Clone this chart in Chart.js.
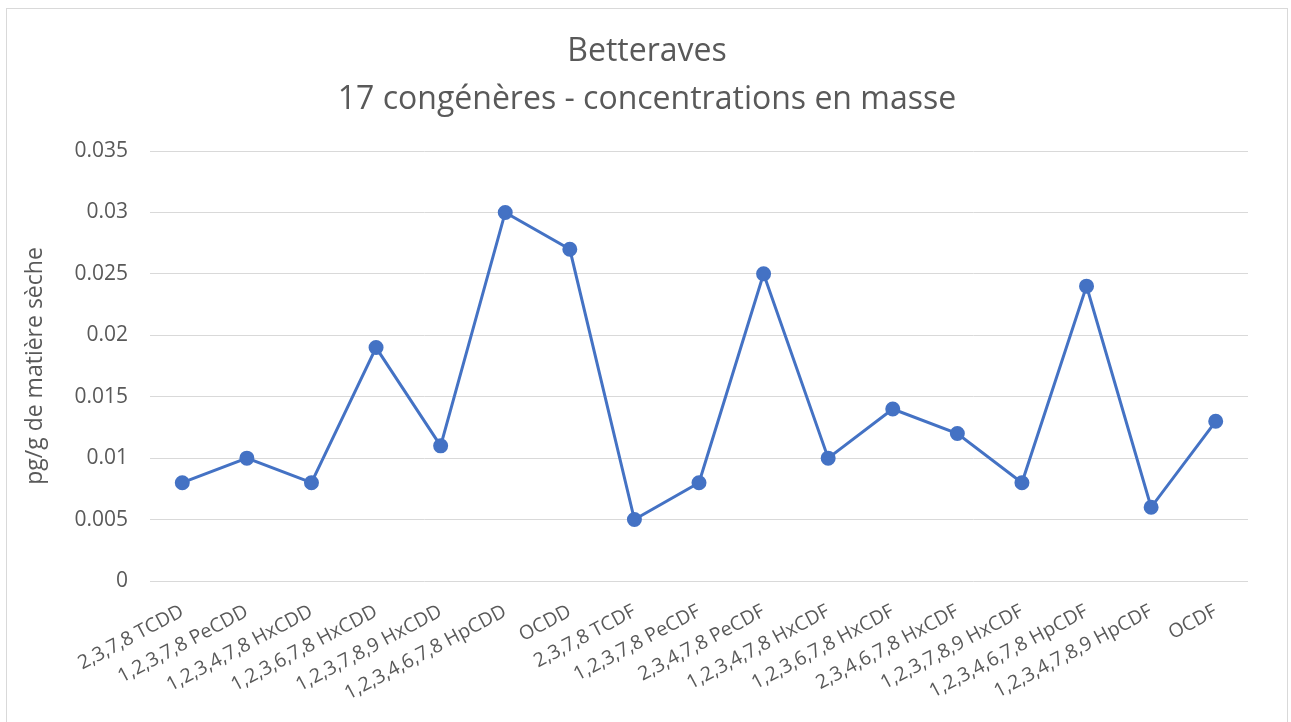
<!DOCTYPE html>
<html>
<head>
<meta charset="utf-8">
<script src="https://cdn.jsdelivr.net/npm/chart.js@4"></script>
<style>
  body { margin: 0; background: #fff; }
  #wrap { width: 1291px; height: 722px; position: relative; }
</style>
</head>
<body>
<div id="wrap"><canvas id="graph"></canvas></div>
<script>
const congeners = [
    '2,3,7,8 TCDD', '1,2,3,7,8 PeCDD', '1,2,3,4,7,8 HxCDD', '1,2,3,6,7,8 HxCDD',
    '1,2,3,7,8,9 HxCDD', '1,2,3,4,6,7,8 HpCDD', 'OCDD', '2,3,7,8 TCDF',
    '1,2,3,7,8 PeCDF', '2,3,4,7,8 PeCDF', '1,2,3,4,7,8 HxCDF', '1,2,3,6,7,8 HxCDF',
    '2,3,4,6,7,8 HxCDF', '1,2,3,7,8,9 HxCDF', '1,2,3,4,6,7,8 HpCDF', '1,2,3,4,7,8,9 HpCDF', 'OCDF'
];
const concentrations = [
    0.008, 0.010, 0.008, 0.019, 0.011, 0.030, 0.027, 0.005,
    0.008, 0.025, 0.010, 0.014, 0.012, 0.008, 0.024, 0.006, 0.013
];
const titleLines = ['Betteraves', '17 congénères - concentrations en masse'];
const yMin = 0;
const yMax = 0.035;
const yStep = 0.005;

const textColor = '#595959';
const fontName = "'Open Sans', sans-serif";

// white background + light frame round the chart area, like the spreadsheet
const frame = {
    id: 'frame',
    beforeDraw(chart) {
        const c = chart.ctx;
        c.save();
        c.fillStyle = '#fff';
        c.fillRect(0, 0, chart.width, chart.height);
        c.strokeStyle = '#d9d9d9';
        c.lineWidth = 1;
        c.strokeRect(6.5, 8.5, 1281, 730);
        c.restore();
    }
};

// title centred on the whole frame, not only on the plot
const topTitle = {
    id: 'topTitle',
    afterDraw(chart) {
        const c = chart.ctx;
        c.save();
        c.fillStyle = textColor;
        c.font = `32px ${fontName}`;
        c.textAlign = 'center';
        c.textBaseline = 'middle';
        titleLines.forEach((line, i) => {
            c.fillText(line, 647, 52 + i * 48);
        });
        c.restore();
    }
};

const graph = document.getElementById('graph').getContext('2d');

new Chart(graph, {
    type: 'line',
    data: {
        labels: congeners,
        datasets: [{
            label: 'Betteraves',
            data: concentrations,
            borderColor: '#4472C4',
            backgroundColor: '#4472C4',
            borderWidth: 3,
            pointRadius: 6,
            pointHoverRadius: 6,
            tension: 0,
            fill: false
        }]
    },
    options: {
        responsive: true,
        maintainAspectRatio: false,
        animation: false,
        layout: { padding: { left: 0, right: 43, top: 151, bottom: 0 } },
        plugins: {
            legend: { display: false },
            tooltip: { enabled: false },
            title: { display: false }
        },
        scales: {
            x: {
                offset: true,
                grid: { display: false, drawTicks: false },
                border: { display: false },
                ticks: {
                    color: textColor,
                    font: { family: fontName, size: 19.5 },
                    minRotation: 28,
                    maxRotation: 28,
                    autoSkip: false,
                    padding: 19
                },
                afterFit(scale) { scale.height = 141; }
            },
            y: {
                min: yMin,
                max: yMax,
                grid: { color: '#d9d9d9', lineWidth: 1, drawTicks: false },
                border: { display: false },
                ticks: {
                    stepSize: yStep,
                    color: textColor,
                    font: { family: fontName, size: 21 },
                    padding: 22,
                    callback: v => String(Math.round(v * 1000) / 1000)
                },
                title: {
                    display: true,
                    text: 'pg/g de matière sèche',
                    color: textColor,
                    font: { family: fontName, size: 23 },
                    padding: { top: 22, bottom: 0 }
                },
                afterFit(scale) { scale.width = 150; }
            }
        }
    },
    plugins: [frame, topTitle]
});
</script>
</body>
</html>
